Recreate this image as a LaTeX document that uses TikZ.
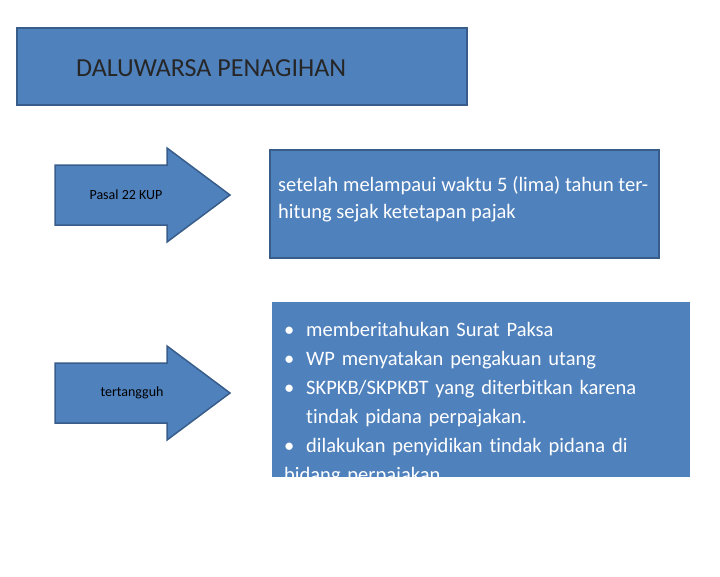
\documentclass[tikz,border=0pt]{standalone}
\usepackage{fontspec}
\setmainfont{Carlito}[Ligatures=NoCommon]
\usetikzlibrary{positioning}
\definecolor{boxblue}{HTML}{4F81BD}
\definecolor{edgeblue}{HTML}{385D8A}
\tikzset{
  bluebox/.style={fill=boxblue, draw=edgeblue, line width=2pt},
  plainbox/.style={fill=boxblue},
  arrowshape/.style={fill=boxblue, draw=edgeblue, line width=1.5pt}
  }
% arrow with its centre at (#1,#2)
\newcommand{\fatarrow}[2]{%
  \filldraw[arrowshape] (#1-57,#2+30) -- (#1+55,#2+30) -- (#1+55,#2+47) -- (#1+118,#2)
    -- (#1+55,#2-47) -- (#1+55,#2-30) -- (#1-57,#2-30) -- cycle;}
\newcommand{\bulletitem}[1]{\par\hangindent=22pt\hangafter=1\noindent\makebox[22pt][l]{\textbullet}#1}
\begin{document}
\begin{tikzpicture}[x=1pt,y=1pt]
  \useasboundingbox (0,0) rectangle (720,-576);

  % The title
  \filldraw[bluebox] (17,-28) rectangle (467,-105);
  \node[font=\fontsize{26}{30}\selectfont, text=black!85, anchor=west, inner sep=0pt] (title) at (76,-68) {DALUWARSA PENAGIHAN};

  % The arrows
  \fatarrow{112}{-195}
  \node[font=\fontsize{14}{16}\selectfont] (pasal) at (126,-195) {Pasal 22 KUP};
  \fatarrow{112}{-393}
  \node[font=\fontsize{14}{16}\selectfont] (tunda) at (132,-393) {tertangguh};

  % The boxes
  \filldraw[bluebox] (270,-150) rectangle (659,-258);
  \node[text=white, font=\fontsize{20.5}{27}\selectfont, text width=370pt, align=justify, anchor=north west, inner sep=0pt]
    (waktu) at (278,-176) {\hyphenpenalty=10000 setelah melampaui waktu 5 (lima) tahun terhitung sejak ketetapan pajak};

  \fill[plainbox] (272,-302) rectangle (690,-477);
  \node[text=white, font=\fontsize{20.5}{29}\selectfont, text width=396pt, anchor=north west, inner sep=0pt]
    (daftar) at (284,-307) {\hyphenpenalty=10000 \rightskip=0pt \parfillskip=0pt plus 1fil
      \bulletitem{memberitahukan Surat Paksa}
      \bulletitem{WP menyatakan pengakuan utang}
      \bulletitem{SKPKB/SKPKBT yang diterbitkan karena tindak pidana perpajakan.}
      \bulletitem{dilakukan penyidikan tindak pidana di bidang perpajakan}};
\end{tikzpicture}
\end{document}
